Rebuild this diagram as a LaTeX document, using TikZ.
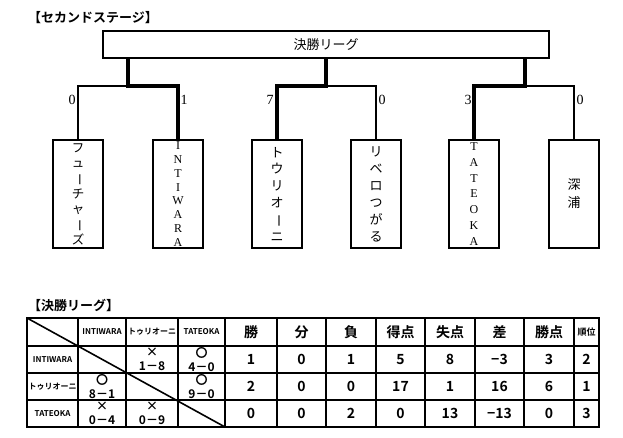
\documentclass[tikz,border=0pt]{standalone}
\usepackage{fontspec}
\setmainfont{Liberation Serif}
\newfontfamily\jp{Noto Sans CJK JP}
\newfontfamily\jpb{Noto Sans CJK JP Bold}
\newcommand{\chou}{\rotatebox[origin=c]{-90}{ー}}
\usetikzlibrary{positioning,calc}

\begin{document}
\begin{tikzpicture}[x=1pt,y=-1pt,
    every node/.style={inner sep=0pt},
    bigbox/.style={draw,line width=1.4pt,minimum width=446pt,minimum height=27pt,font=\jp\fontsize{13}{14}\selectfont},
    team/.style={draw,line width=1.5pt,minimum width=50pt,minimum height=108pt,align=center},
    winner/.style={line width=4.5pt},
    loser/.style={line width=1.6pt},
    score/.style={font=\fontsize{14}{14}\selectfont},
    heading/.style={anchor=west,font=\jpb\fontsize{13}{14}\selectfont},
    grid/.style={line width=1.6pt},
    colhead/.style={font=\jpb\fontsize{14}{14}\selectfont},
    smallhead/.style={font=\jpb\fontsize{8}{9}\selectfont},
    cell/.style={font=\jpb\fontsize{14}{14}\selectfont},
    match/.style={font=\jpb\fontsize{12}{14}\selectfont,align=center}
    ]
    \useasboundingbox (0,0) rectangle (623,438);

    \node[heading] (title) at (28,18) {【セカンドステージ】};
    \node[bigbox] (final) at (326,44.5) {決勝リーグ};

    \node[team,font=\jp\fontsize{12.5}{15.3}\selectfont] (t1) at (78,194) {フ\\ュ\\\chou\\チ\\ャ\\\chou\\ズ};
    \node[team,font=\fontsize{12}{13.8}\selectfont] (t2) at (178,194) {I\\N\\T\\I\\W\\A\\R\\A};
    \node[team,font=\jp\fontsize{13}{16.8}\selectfont] (t3) at (277,194) {ト\\ウ\\リ\\オ\\\chou\\ニ};
    \node[team,font=\jp\fontsize{13}{17}\selectfont] (t4) at (376,194) {リ\\ベ\\ロ\\つ\\が\\る};
    \node[team,font=\fontsize{12}{15.8}\selectfont] (t5) at (474,194) {T\\A\\T\\E\\O\\K\\A};
    \node[team,font=\jp\fontsize{13}{18}\selectfont] (t6) at (574,194) {深\\浦};

    \coordinate (j1) at (128,86);
    \coordinate (j2) at (326,86);
    \coordinate (j3) at (525,86);

    % the edges
    \draw[loser] (j1) -| (t1.north);
    \draw[loser] (j2) -| (t4.north);
    \draw[loser] (j3) -| (t6.north);
    \draw[winner] (final.south -| j1) -- (j1) -| (t2.north);
    \draw[winner] (final.south -| j2) -- (j2) -| (t3.north);
    \draw[winner] (final.south -| j3) -- (j3) -| (t5.north);

    \node[score] (s1) at (72,100) {0};
    \node[score] (s2) at (184,100) {1};
    \node[score] (s3) at (270,100) {7};
    \node[score] (s4) at (382,100) {0};
    \node[score] (s5) at (468,100) {3};
    \node[score] (s6) at (580,100) {0};

    % the league table
    \node[heading] (ltitle) at (28,305) {【決勝リーグ】};
    \draw[grid] (27,318) rectangle (599,427);
    \foreach \x in {78,126,178,225,277,326,376,425,475,524,574}
        \draw[grid] (\x,318) -- (\x,427);
    \foreach \y in {346,373,400}
        \draw[grid] (27,\y) -- (599,\y);
    \draw[grid] (27,318) -- (225,427);

    \node[smallhead] (h1) at (102,332) {INTIWARA};
    \node[smallhead] (h2) at (152,332) {トゥリオーニ};
    \node[smallhead] (h3) at (201.5,332) {TATEOKA};
    \node[colhead] (h4) at (251,332) {勝};
    \node[colhead] (h5) at (301.5,332) {分};
    \node[colhead] (h6) at (351,332) {負};
    \node[colhead] (h7) at (400.5,332) {得点};
    \node[colhead] (h8) at (450,332) {失点};
    \node[colhead] (h9) at (499.5,332) {差};
    \node[colhead] (h10) at (549,332) {勝点};
    \node[smallhead,font=\jpb\fontsize{9}{9}\selectfont] (h11) at (586.5,332) {順位};

    \node[smallhead] (r1) at (52.5,359.5) {INTIWARA};
    \node[smallhead] (r2) at (52.5,386.5) {トゥリオーニ};
    \node[smallhead] (r3) at (52.5,413.5) {TATEOKA};

    \node[match] (m12) at (152,359.5) {×\\1－8};
    \node[match] (m13) at (201.5,359.5) {〇\\4－0};
    \node[match] (m21) at (102,386.5) {〇\\8－1};
    \node[match] (m23) at (201.5,386.5) {〇\\9－0};
    \node[match] (m31) at (102,413.5) {×\\0－4};
    \node[match] (m32) at (152,413.5) {×\\0－9};

    \foreach \y/\vals in {359.5/{1,0,1,5,8,−3,3,2},386.5/{2,0,0,17,1,16,6,1},413.5/{0,0,2,0,13,−13,0,3}}
        \foreach \v [count=\i] in \vals {
            \pgfmathsetmacro{\cx}{{251,301.5,351,400.5,450,499.5,549,586.5}[\i-1]}
            \node[cell] (c\i) at (\cx,\y) {\v};
        }
\end{tikzpicture}
\end{document}
